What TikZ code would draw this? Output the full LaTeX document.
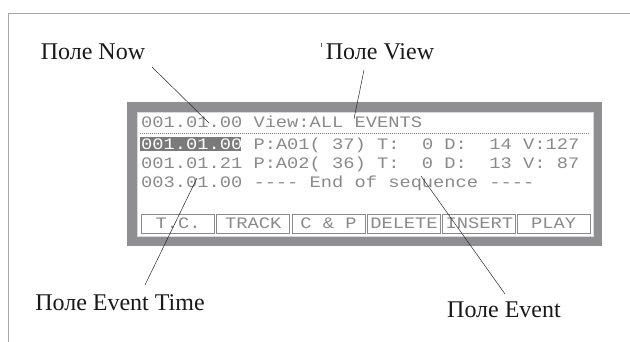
\documentclass[tikz,border=0pt]{standalone}
\usepackage{fontspec}
\setmainfont{Liberation Serif}
\newfontfamily\lcd[FakeStretch=1.17]{Liberation Mono}
\definecolor{lcdgray}{HTML}{8A8A8A}
\definecolor{dispgray}{HTML}{8F8F91}
\definecolor{framegray}{HTML}{A8A8A8}
\definecolor{hlgray}{HTML}{7A7A7A}
\begin{document}
\begin{tikzpicture}[x=1pt,y=-1pt,
  lbl/.style={font=\fontsize{24}{24}\selectfont, inner sep=0pt, text=black!90},
  lcdtxt/.style={font=\lcd\fontsize{16}{16}\selectfont, text=lcdgray, inner sep=0pt, anchor=base west},
  btn/.style={draw=lcdgray, line width=0.9pt, fill=white, minimum width=73pt, minimum height=19pt,
              inner sep=0pt, font=\lcd\fontsize{16}{16}\selectfont, text=lcdgray},
  callout/.style={draw=black!85, line width=0.5pt}]
\useasboundingbox (0,0) rectangle (630,342);
% outer frame
\draw[framegray, line width=0.8pt] (8,342) -- (8,13) -- (630,13);
% display
\fill[dispgray] (127,102) rectangle (602,246);
\filldraw[fill=white, draw=black!15, line width=0.4pt] (137,112) rectangle (593,236);
% screen text
\node[lcdtxt] (r0) at (141,127.5) {001.01.00 View:ALL EVENTS};
\draw[lcdgray, line width=0.8pt, dash pattern=on 0.8pt off 1.2pt] (140,133) -- (590,133);
\fill[hlgray] (140,137) rectangle (241,151);
\node[lcdtxt] (r1) at (141,149.5) {{\color{white}001.01.00} P:A01( 37) T:~~0 D:~~14 V:127};
\node[lcdtxt] (r2) at (141,168.5) {001.01.21 P:A02( 36) T:~~0 D:~~13 V:~87};
\node[lcdtxt] (r3) at (141,187.5) {003.01.00 ---- End of sequence ----};
% buttons
\node[btn] (b1) at (178.2,223.5) {T.C.};
\node[btn] (b2) at (253.3,223.5) {TRACK};
\node[btn] (b3) at (328.5,223.5) {C \& P};
\node[btn] (b4) at (404.0,223.5) {DELETE};
\node[btn] (b5) at (479.3,223.5) {INSERT};
\node[btn] (b6) at (553.6,223.5) {PLAY};
% labels
\node[lbl] (lnow) at (93,52) {Поле Now};
\node[lbl] (lview) at (380,52) {Поле View};
\node[lbl] (ltime) at (120,303) {Поле Event Time};
\node[lbl] (levent) at (504,310) {Поле Event};
\draw[black!60, line width=0.4pt] (321.5,43) -- (321.5,47);
% callout end points
\coordinate (nowA) at (152,67);
\coordinate (nowB) at (209,123);
\coordinate (viewA) at (364,70);
\coordinate (viewB) at (354,119);
\coordinate (timeA) at (145,285);
\coordinate (timeB) at (197,178);
\coordinate (evA) at (505,294);
\coordinate (evB) at (421,176);
\draw[callout] (nowA) -- (nowB);
\draw[callout] (viewA) -- (viewB);
\draw[callout] (timeA) -- (timeB);
\draw[callout] (evA) -- (evB);
\end{tikzpicture}
\end{document}
